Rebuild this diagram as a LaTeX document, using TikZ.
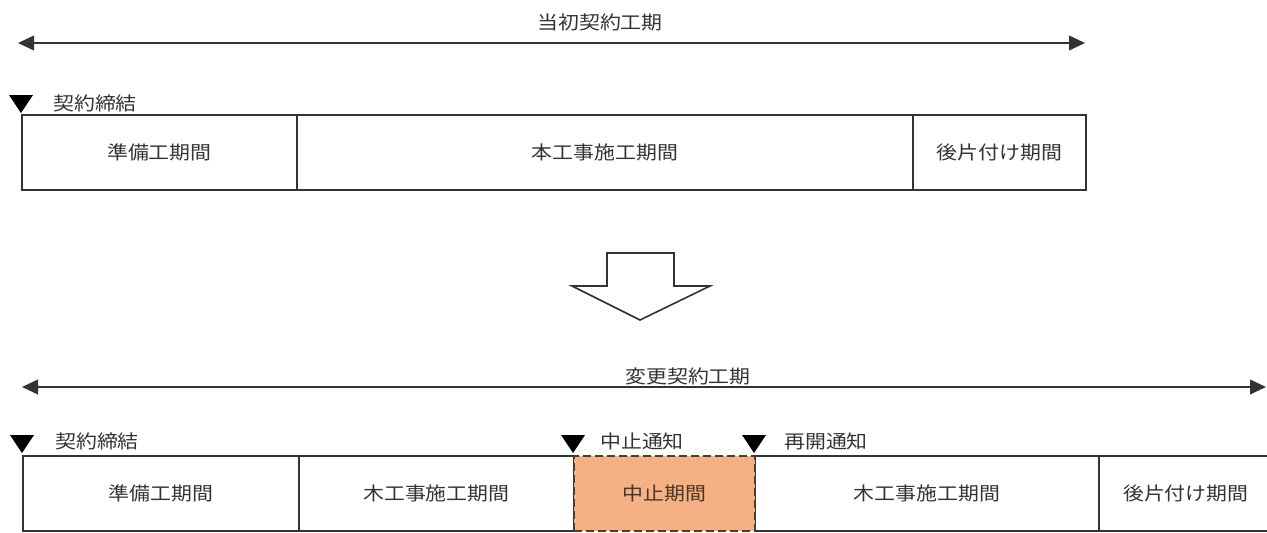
\documentclass[tikz,border=0pt]{standalone}
\usepackage{fontspec}
\newfontfamily\jp[FakeStretch=1.12]{Noto Sans CJK JP}
\usetikzlibrary{arrows.meta}
\definecolor{ln}{HTML}{333333}
\definecolor{stopfill}{HTML}{F4B183}
\definecolor{stopline}{HTML}{4F3B2C}
\definecolor{stoptext}{HTML}{4A3424}
\tikzset{
  every node/.style={font=\jp\fontsize{14pt}{16pt}\selectfont, text=ln},
  period/.style={draw=ln, line width=1.3pt, minimum height=56.5pt, inner sep=0pt, anchor=north west},
  stopbox/.style={period, fill=stopfill, draw=stopline, text=stoptext, line width=1.5pt, dash pattern=on 6pt off 3pt},
  span/.style={draw=ln, line width=1.3pt, {Triangle[length=12pt,width=11pt]}-{Triangle[length=12pt,width=11pt]}},
  marker/.style={fill=black, draw=none},
  lbl/.style={inner sep=0pt},
  bigarrowstyle/.style={draw=ln, line width=1.2pt, fill=white, line join=miter},
}
\begin{document}
\begin{tikzpicture}[x=0.75pt, y=-0.75pt]
\useasboundingbox (0,0) rectangle (1267,532);
% ---------- top (original contract) ----------
\coordinate (ta) at (18,43);
\coordinate (tb) at (1085,43);
\draw[span] (ta) -- (tb);
\node[lbl] (ttitle) at (600,22) {当初契約工期};

\node[period, minimum width=275*0.75pt] (t1) at (21,114) {準備工期間};
\node[period, minimum width=616*0.75pt] (t2) at (296,114) {本工事施工期間};
\node[period, minimum width=173*0.75pt] (t3) at (912,114) {後片付け期間};

\fill[marker] (9,95) -- (33,95) -- (21,113) -- cycle;
\node[lbl, anchor=west] (tm1) at (53,103) {契約締結};

% ---------- big down arrow ----------
\draw[bigarrowstyle]
  (607,253) -- (674,253) -- (674,286) -- (710,286) -- (640,320) -- (572,286) -- (607,286) -- cycle;

% ---------- bottom (changed contract) ----------
\coordinate (ba) at (22,387);
\coordinate (bb) at (1266,387);
\draw[span] (ba) -- (bb);
\node[lbl] (btitle) at (688,376) {変更契約工期};

\node[period, minimum width=276*0.75pt] (b1) at (22,455) {準備工期間};
\node[period, minimum width=275*0.75pt] (b2) at (298,455) {木工事施工期間};
\node[period, minimum width=344*0.75pt] (b4) at (754,455) {木工事施工期間};
\node[period, minimum width=174*0.75pt] (b5) at (1098,455) {後片付け期間};
\node[stopbox, minimum width=181*0.75pt] (b3) at (573,455) {中止期間};

\fill[marker] (10,435) -- (34,435) -- (22,453) -- cycle;
\fill[marker] (561,435) -- (585,435) -- (573,453) -- cycle;
\fill[marker] (742,435) -- (766,435) -- (754,453) -- cycle;
\node[lbl, anchor=west] (bm1) at (55,441) {契約締結};
\node[lbl, anchor=west] (bm2) at (600,441) {中止通知};
\node[lbl, anchor=west] (bm3) at (784,441) {再開通知};
\end{tikzpicture}
\end{document}
